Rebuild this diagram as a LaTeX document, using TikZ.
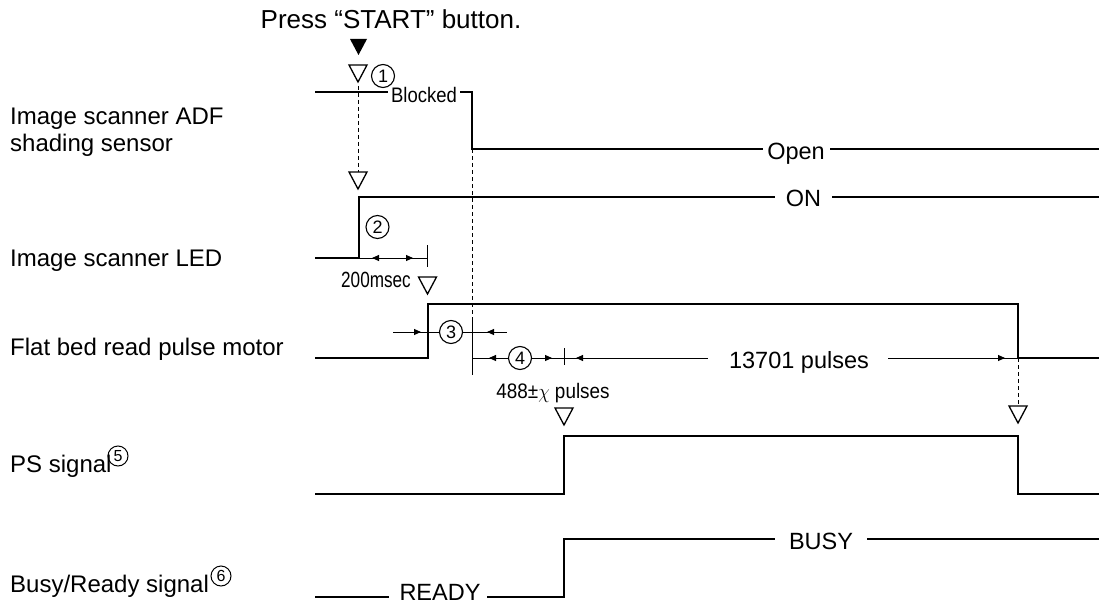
\documentclass[tikz,border=0pt]{standalone}
\usepackage{fontspec}
\setmainfont{Liberation Sans}
\usetikzlibrary{arrows.meta}
\newcommand\mytri[2]{\draw[otri] (#1-9,#2) -- (#1+9,#2) -- (#1,#2+17) -- cycle;}
\begin{document}
\begin{tikzpicture}[x=1pt,y=-1pt,
  sig/.style={line width=2.8pt, line join=miter, line cap=butt},
  dim/.style={line width=0.9pt},
  dsh/.style={line width=0.9pt, dash pattern=on 4pt off 3pt},
  tip/.style={-{Triangle[length=7pt,width=6pt]}, line width=0.9pt},
  lbl/.style={inner sep=0pt, anchor=base west, font=\fontsize{24}{27}\selectfont},
  txt/.style={inner sep=0pt, anchor=base, font=\fontsize{23.5}{27}\selectfont},
  num/.style={circle, draw, line width=1.1pt, minimum size=23pt, inner sep=0pt, font=\fontsize{18}{18}\selectfont},
  snum/.style={circle, draw, line width=1.0pt, minimum size=20pt, inner sep=0pt, font=\fontsize{16}{16}\selectfont},
  otri/.style={line width=1.3pt, line join=miter},
]
\useasboundingbox (0,0) rectangle (1099,604);

% labels
\node[txt, font=\fontsize{26}{28}\selectfont] (press) at (391,29) {Press “START” button.};
\node[lbl] (l1a) at (10,125) {Image scanner ADF};
\node[lbl] (l1b) at (10,152) {shading sensor};
\node[lbl] (l2) at (10,266) {Image scanner LED};
\node[lbl] (l3) at (10,355) {Flat bed read pulse motor};
\node[lbl] (l4) at (10,472) {PS signal};
\node[lbl] (l5) at (10,592) {Busy/Ready signal};
\node[snum] (n5) at (118,456) {5};
\node[snum] (n6) at (221,576) {6};

% start markers
\fill (350,39) -- (367,39) -- (358.5,55) -- cycle;
\mytri{358}{65}
\node[num] (n1) at (383,76) {1};
\draw[dsh] (358,86) -- (358,172);
\mytri{358}{172}

% ADF shading sensor
\draw[sig] (315,92) -- (388,92);
\node[txt, font=\fontsize{21}{24}\selectfont] (blocked) at (424,103) {\scalebox{0.88}[1]{Blocked}};
\draw[sig] (460,92) -- (472,92) -- (472,149) -- (763,149);
\node[txt] (open) at (796,159.5) {Open};
\draw[sig] (830,149) -- (1099,149);

% LED
\draw[sig] (315,258) -- (359,258) -- (359,197) -- (775,197);
\node[txt] (on) at (803.5,206) {ON};
\draw[sig] (832,197) -- (1099,197);
\node[num] (n2) at (377.5,227) {2};

% 200 msec
\draw[dim] (359,258) -- (427,258);
\draw[dim] (427,245) -- (427,267);
\draw[tip] (380,258) -- (372,258);
\draw[tip] (405,258) -- (413,258);
\node[txt, font=\fontsize{22}{24}\selectfont] (ms) at (376,287) {\scalebox{0.78}[1]{200msec}};
\mytri{427.5}{277}

% dashed at 472
\draw[dsh] (472,149) -- (472,319);

% motor
\draw[sig] (315,358) -- (428,358) -- (428,304) -- (1018,304) -- (1018,358) -- (1099,358);

% (3)
\draw[dim] (393,332) -- (440,332);
\node[num] (n3) at (451,332) {3};
\draw[dim] (462,332) -- (507,332);
\draw[tip] (413,332) -- (421,332);
\draw[tip] (495,332) -- (487,332);
\draw[dim] (472,319) -- (472,375);

% (4)
\draw[dim] (472,358) -- (509,358);
\node[num] (n4) at (520,358) {4};
\draw[dim] (531,358) -- (564,358);
\draw[tip] (497,358) -- (489,358);
\draw[tip] (544,358) -- (552,358);
\draw[dim] (564,348) -- (564,365);
\node[txt, font=\fontsize{21}{24}\selectfont] (pul) at (553,398) {\scalebox{0.9}[1]{488±$\chi$ pulses}};

% 13701
\draw[dim] (564,358) -- (708,358);
\node[txt] (p13) at (799,368) {13701 pulses};
\draw[dim] (888,358) -- (1018,358);
\draw[tip] (584,358) -- (576,358);
\draw[tip] (997,358) -- (1005,358);

\draw[dsh] (1018,358) -- (1018,406);
\mytri{1018}{406}
\mytri{564}{408}

% PS signal
\draw[sig] (315,494) -- (564,494) -- (564,436) -- (1018,436) -- (1018,494) -- (1099,494);

% Busy/Ready
\draw[sig] (315,597) -- (389,597);
\node[txt] (ready) at (440,600) {READY};
\draw[sig] (487,597) -- (564,597) -- (564,539) -- (775,539);
\node[txt] (busy) at (821,549) {BUSY};
\draw[sig] (867,539) -- (1099,539);
\end{tikzpicture}
\end{document}
